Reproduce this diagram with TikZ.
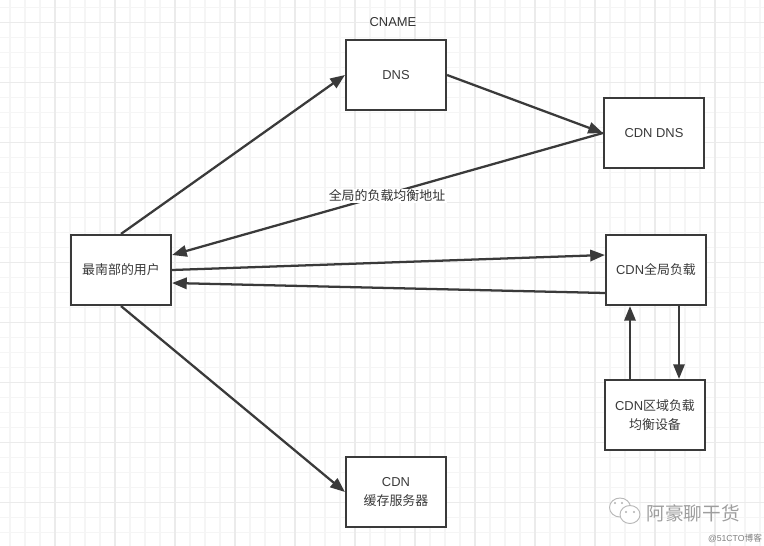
\documentclass[tikz,border=0pt]{standalone}
\usepackage{fontspec}
\setmainfont{Liberation Sans}
\newfontfamily\cjk{Noto Sans CJK SC}
\usetikzlibrary{arrows.meta,calc}
\definecolor{inkc}{HTML}{3A3A3A}
\definecolor{gridminor}{HTML}{F5F5F5}
\definecolor{gridmajor}{HTML}{EBEBEB}
\tikzset{
  boxn/.style={draw=inkc,line width=1.6pt,fill=white,minimum width=75pt,minimum height=52.5pt,inner sep=0pt,align=center,font=\fontsize{9.7pt}{14pt}\selectfont,text=inkc},
  conn/.style={draw=inkc,line width=1.7pt,-{Triangle[length=11pt,width=8.5pt]}},
  lbl/.style={inner sep=1pt,font=\fontsize{9.7pt}{12pt}\selectfont,text=black!80}
}
\begin{document}
\begin{tikzpicture}[x=0.75pt,y=-0.75pt]
\useasboundingbox (0,0) rectangle (764,546);
\fill[white] (0,0) rectangle (764,546);
\foreach \k in {0,...,50} {
  \draw[gridminor,line width=0.9pt] ({10+15*\k},0) -- ({10+15*\k},546);
}
\foreach \k in {0,...,36} {
  \draw[gridminor,line width=0.9pt] (0,{7.5+15*\k}) -- (764,{7.5+15*\k});
}
\foreach \k in {0,...,12} {
  \draw[gridmajor,line width=0.9pt] ({55+60*\k},0) -- ({55+60*\k},546);
}
\foreach \k in {0,...,8} {
  \draw[gridmajor,line width=0.9pt] (0,{22.5+60*\k}) -- (764,{22.5+60*\k});
}
\node[boxn] (user) at (121,270) {\cjk 最南部的用户};
\node[boxn] (dns) at (396,75) {DNS};
\node[boxn] (cdndns) at (654,133) {CDN DNS};
\node[boxn] (glb) at (656,270) {CDN{\cjk 全局负载}};
\node[boxn] (reg) at (655,415) {CDN{\cjk 区域负载}\\{\cjk 均衡设备}};
\node[boxn] (cache) at (396,492) {CDN\\{\cjk 缓存服务器}};
\node[lbl] (cname) at (393,22) {CNAME};
\coordinate (uin1) at ($(user.east)+(0,-15)$);
\coordinate (uin2) at ($(user.east)+(0,13)$);
\coordinate (gin) at ($(glb.west)+(0,-15)$);
\coordinate (gout) at ($(glb.west)+(0,23)$);
\coordinate (gs1) at ($(glb.south)+(-26,0)$);
\coordinate (gs2) at ($(glb.south)+(23,0)$);
\coordinate (rn1) at ($(reg.north)+(-25,0)$);
\coordinate (rn2) at ($(reg.north)+(24,0)$);
\draw[conn] (user.north) -- (dns.west);
\draw[conn] (dns.east) -- (cdndns.west);
\draw[conn] (cdndns.west) -- (uin1);
\draw[conn] (user.east) -- (gin);
\draw[conn] (gout) -- (uin2);
\draw[conn] (rn1) -- (gs1);
\draw[conn] (gs2) -- (rn2);
\draw[conn] (user.south) -- (cache.west);
\node[lbl,fill=white] (glabel) at (387,196) {\cjk 全局的负载均衡地址};
% watermark
\begin{scope}[draw=black!28,fill=white,line width=0.7pt]
\filldraw (620,507.5) ellipse (10.5 and 9.5);
\filldraw (630,514.5) ellipse (10 and 9);
\end{scope}
\fill[black!30] (615,503) circle (1.2) (622,503) circle (1.2) (626,512) circle (1.2) (634,512) circle (1.2);
\node[inner sep=0pt,font=\cjk\fontsize{14pt}{16pt}\selectfont,text=black!38] (wm) at (693,513) {阿豪聊干货};
\node[inner sep=0pt,font=\fontsize{6.5pt}{8pt}\selectfont,text=black!50] (wm2) at (735,538) {@51CTO{\cjk 博客}};
\end{tikzpicture}
\end{document}
